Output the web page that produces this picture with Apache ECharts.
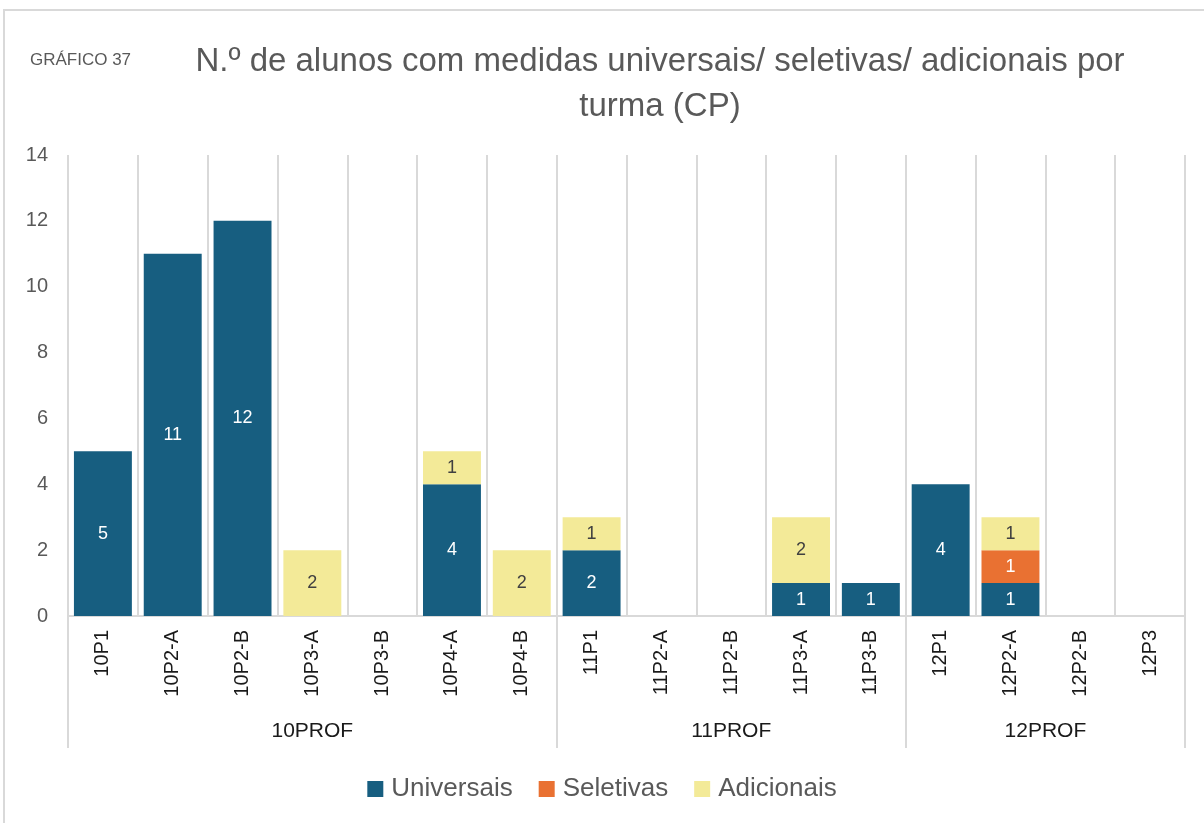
<!DOCTYPE html>
<html>
<head>
<meta charset="utf-8">
<script src="https://cdn.jsdelivr.net/npm/echarts@6/dist/echarts.min.js"></script>
<style>
  html, body { margin: 0; padding: 0; background: #fff; }
  #chart { width: 1204px; height: 823px; }
</style>
</head>
<body>
<div id="chart"></div>
<script>
var turmas = ['10P1','10P2-A','10P2-B','10P3-A','10P3-B','10P4-A','10P4-B',
              '11P1','11P2-A','11P2-B','11P3-A','11P3-B',
              '12P1','12P2-A','12P2-B','12P3'];
var universais = [5, 11, 12, 0, 0, 4, 0, 2, 0, 0, 1, 1, 4, 1, 0, 0];
var seletivas  = [0, 0, 0, 0, 0, 0, 0, 0, 0, 0, 0, 0, 0, 1, 0, 0];
var adicionais = [0, 0, 0, 2, 0, 1, 2, 1, 0, 0, 2, 0, 0, 1, 0, 0];
var grupos = ['10PROF', '11PROF', '12PROF'];
var grupoFronteiras = [0, 7, 12, 16];
var yTicks = [0, 2, 4, 6, 8, 10, 12, 14];

var fonte = '"Liberation Sans", Arial, sans-serif';

// centro de cada grupo (em unidades de categoria)
var grupoCentros = [];
for (var i = 0; i < grupos.length; i++) {
    grupoCentros.push((grupoFronteiras[i] + grupoFronteiras[i + 1]) / 2);
}

function rotulo(cor) {
    return {
        show: true,
        color: cor,
        fontSize: 18,
        fontFamily: fonte,
        formatter: function (p) { return p.value ? p.value : ''; }
    };
}

var chart = echarts.init(document.getElementById('chart'));
var option = {
    backgroundColor: '#fff',
    animation: false,
    title: [{
        text: 'N.º de alunos com medidas universais/ seletivas/ adicionais por\nturma (CP)',
        left: 655,
        textAlign: 'center',
        top: 34,
        textStyle: { fontSize: 33, fontWeight: 'normal', color: '#595959', fontFamily: fonte, lineHeight: 45 }
    }, {
        text: 'GRÁFICO 37',
        left: 25,
        top: 47,
        textStyle: { fontSize: 17, fontWeight: 'normal', color: '#595959', fontFamily: fonte }
    }],
    graphic: [{
        type: 'rect',
        shape: { x: 4, y: 10, width: 1300, height: 900 },
        style: { fill: 'none', stroke: '#d9d9d9', lineWidth: 2 },
        silent: true
    }],
    legend: {
        data: ['Universais', 'Seletivas', 'Adicionais'],
        bottom: 16,
        left: 'center',
        itemWidth: 16,
        itemHeight: 16,
        itemGap: 26,
        icon: 'rect',
        textStyle: { fontSize: 26, color: '#595959', fontFamily: fonte, padding: [0, 0, 0, 3] }
    },
    grid: { left: 68, right: 19, top: 155, bottom: 207 },
    xAxis: [{
        type: 'category',
        data: turmas,
        position: 'bottom',
        axisLine: { show: true, lineStyle: { color: '#d9d9d9', width: 2 } },
        axisTick: { show: false },
        splitLine: { show: true, lineStyle: { color: '#d9d9d9', width: 2 } },
        axisLabel: {
            rotate: 90,
            margin: 14,
            fontSize: 20,
            color: '#1a1a1a',
            fontFamily: fonte
        }
    }, {
        type: 'value',
        min: 0,
        max: 16,
        position: 'bottom',
        axisLine: { show: false },
        splitLine: { show: false },
        axisTick: {
            show: true,
            customValues: grupoFronteiras,
            length: 132,
            lineStyle: { color: '#d9d9d9', width: 2 }
        },
        axisLabel: {
            show: true,
            customValues: grupoCentros,
            margin: 105,
            fontSize: 21,
            color: '#1a1a1a',
            fontFamily: fonte,
            formatter: function (v) {
                var idx = grupoCentros.indexOf(v);
                return idx >= 0 ? grupos[idx] : '';
            }
        }
    }],
    yAxis: {
        type: 'value',
        min: 0,
        max: 14,
        interval: 2,
        axisLine: { show: false },
        axisTick: { show: false },
        splitLine: { show: false },
        axisLabel: {
            margin: 20,
            fontSize: 20,
            color: '#595959',
            fontFamily: fonte,
            customValues: yTicks
        }
    },
    series: [{
        name: 'Universais',
        type: 'bar',
        stack: 'total',
        xAxisIndex: 0,
        data: universais,
        barCategoryGap: '17%',
        itemStyle: { color: '#175E80' },
        label: rotulo('#ffffff')
    }, {
        name: 'Seletivas',
        type: 'bar',
        stack: 'total',
        xAxisIndex: 0,
        data: seletivas,
        itemStyle: { color: '#E97132' },
        label: rotulo('#ffffff')
    }, {
        name: 'Adicionais',
        type: 'bar',
        stack: 'total',
        xAxisIndex: 0,
        data: adicionais,
        itemStyle: { color: '#F3EA98' },
        label: rotulo('#404040')
    }]
};
chart.setOption(option);
window.onresize = chart.resize;
</script>
</body>
</html>
